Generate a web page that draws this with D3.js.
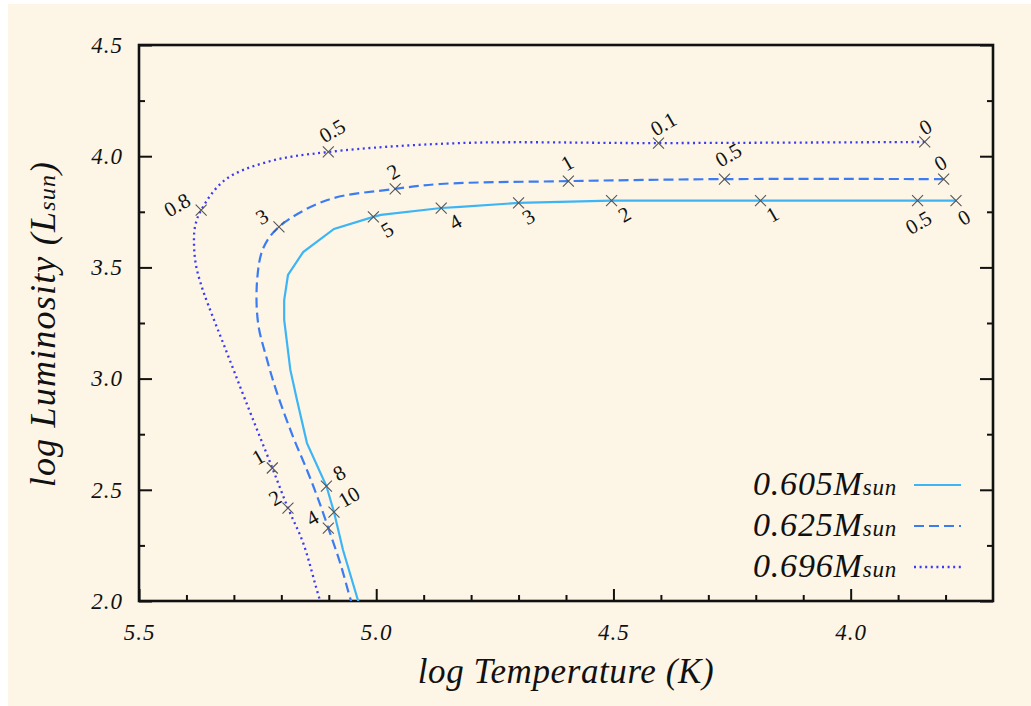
<!DOCTYPE html>
<html>
<head>
<meta charset="utf-8">
<script src="https://cdn.jsdelivr.net/npm/d3@7"></script>
<style>
  html, body { margin: 0; padding: 0; background: #ffffff; }
  svg { display: block; }
  .serif { font-family: "Liberation Serif", "DejaVu Serif", serif; }
</style>
</head>
<body>
<svg id="chart" width="1031" height="706"></svg>
<script>
// Post-AGB evolutionary tracks: log Teff vs log L for three remnant masses.
const seriesNames = ["0.605", "0.625", "0.696"];

// 0.605 Msun track
const tempA = [3.778, 3.859, 4.19, 4.504, 4.70, 4.823, 4.863, 4.99, 5.006, 5.089, 5.154, 5.186, 5.194, 5.194, 5.181, 5.167, 5.146, 5.105, 5.089, 5.070, 5.038, 5.02];
const lumA  = [3.80, 3.80, 3.80, 3.80, 3.79, 3.772, 3.767, 3.736, 3.727, 3.673, 3.569, 3.466, 3.353, 3.264, 3.039, 2.904, 2.710, 2.517, 2.400, 2.229, 2.0, 1.9];

// 0.625 Msun track
const tempB = [3.804, 4.266, 4.595, 4.865, 4.960, 5.103, 5.205, 5.238, 5.251, 5.249, 5.230, 5.209, 5.175, 5.146, 5.124, 5.101, 5.076, 5.053, 5.04];
const lumB  = [3.897, 3.897, 3.888, 3.875, 3.853, 3.803, 3.682, 3.587, 3.443, 3.250, 3.084, 2.935, 2.737, 2.589, 2.468, 2.328, 2.171, 2.0, 1.92];

// 0.696 Msun track
const tempC = [3.844, 4.405, 4.823, 5.101, 5.230, 5.319, 5.369, 5.382, 5.384, 5.380, 5.369, 5.354, 5.317, 5.276, 5.219, 5.186, 5.154, 5.118, 5.10];
const lumC  = [4.064, 4.059, 4.059, 4.019, 3.974, 3.893, 3.758, 3.682, 3.601, 3.511, 3.421, 3.331, 3.129, 2.904, 2.598, 2.418, 2.261, 2.0, 1.9];

// Age markers (10^3 yr) along each track
const markTempA = [3.778, 3.859, 4.19, 4.504, 4.70, 4.863, 5.006, 5.105, 5.089];
const markLumA  = [3.80, 3.80, 3.80, 3.80, 3.79, 3.767, 3.727, 2.517, 2.400];
const markTextA = ["0", "0.5", "1", "2", "3", "4", "5", "8", "10"];

const markTempB = [3.804, 4.266, 4.595, 4.960, 5.205, 5.101];
const markLumB  = [3.897, 3.897, 3.888, 3.853, 3.682, 2.328];
const markTextB = ["0", "0.5", "1", "2", "3", "4"];

const markTempC = [3.844, 4.405, 5.101, 5.369, 5.219, 5.186];
const markLumC  = [4.064, 4.059, 4.019, 3.758, 2.598, 2.418];
const markTextC = ["0", "0.1", "0.5", "0.8", "1", "2"];

// Axis ticks
const xTicks = [5.5, 5.0, 4.5, 4.0];
const yTicks = [2.0, 2.5, 3.0, 3.5, 4.0, 4.5];

// ---- layout ----
const W = 1031, H = 706;
const M = { left: 139, right: 993, top: 45, bottom: 601 };
const svg = d3.select("#chart");

svg.append("rect").attr("x", 8).attr("y", 4).attr("width", W - 8).attr("height", H - 4).attr("fill", "#fdf6e7");

const x = d3.scaleLinear().domain([5.5, 3.7]).range([M.left, M.right]);
const y = d3.scaleLinear().domain([2.0, 4.5]).range([M.bottom, M.top]);

svg.append("defs").append("clipPath").attr("id", "plotClip")
  .append("rect").attr("x", M.left).attr("y", M.top)
  .attr("width", M.right - M.left).attr("height", M.bottom - M.top);

// ---- axes (ticks point into the frame) ----
const xMinor = d3.range(55, 37, -1).map(v => v / 10);
const yMinor = d3.range(8, 19).map(v => v / 4);
const notMajor = (vals, majors) => vals.filter(v => !majors.some(t => Math.abs(t - v) < 1e-6));

const gx = svg.append("g").attr("transform", `translate(0,${M.bottom})`)
  .call(d3.axisBottom(x).tickValues(xTicks).tickFormat(d3.format(".1f")).tickSize(-12).tickPadding(39));
const gy = svg.append("g").attr("transform", `translate(${M.left},0)`)
  .call(d3.axisLeft(y).tickValues(yTicks).tickFormat(d3.format(".1f")).tickSize(-13).tickPadding(16));
const gr = svg.append("g").attr("transform", `translate(${M.right},0)`)
  .call(d3.axisRight(y).tickValues(yTicks).tickFormat("").tickSize(-13));

const gxm = svg.append("g").attr("transform", `translate(0,${M.bottom})`)
  .call(d3.axisBottom(x).tickValues(notMajor(xMinor, xTicks)).tickFormat("").tickSize(-6));
const gym = svg.append("g").attr("transform", `translate(${M.left},0)`)
  .call(d3.axisLeft(y).tickValues(notMajor(yMinor, yTicks)).tickFormat("").tickSize(-6));
const grm = svg.append("g").attr("transform", `translate(${M.right},0)`)
  .call(d3.axisRight(y).tickValues(notMajor(yMinor, yTicks)).tickFormat("").tickSize(-6));

[gx, gy, gr, gxm, gym, grm].forEach(g => {
  g.select(".domain").remove();
  g.selectAll(".tick line").attr("stroke", "#111").attr("stroke-width", 2);
  g.selectAll(".tick text")
    .style("font-family", "'Liberation Serif', serif").style("font-style", "italic")
    .style("font-size", "23px").style("letter-spacing", "1px").attr("fill", "#111");
});
gx.selectAll(".tick text").attr("dy", "0");

// frame
svg.append("rect").attr("x", M.left).attr("y", M.top)
  .attr("width", M.right - M.left).attr("height", M.bottom - M.top)
  .attr("fill", "none").attr("stroke", "#111").attr("stroke-width", 2.6);

// ---- tracks ----
const plot = svg.append("g").attr("clip-path", "url(#plotClip)");
const zipPts = (ts, ls) => ts.map((t, i) => [t, ls[i]]);
const lineLin = d3.line().x(d => x(d[0])).y(d => y(d[1]));
const lineSmooth = d3.line().x(d => x(d[0])).y(d => y(d[1])).curve(d3.curveCatmullRom.alpha(0.5));

const styles = [
  { color: "#3db5f5", width: 2.2, dash: null, line: lineLin },
  { color: "#3c7cf2", width: 2.2, dash: "10,5", line: lineSmooth },
  { color: "#3a3af5", width: 2.3, dash: "2,3.6", line: lineSmooth }
];
const tracks = [zipPts(tempA, lumA), zipPts(tempB, lumB), zipPts(tempC, lumC)];

tracks.forEach((pts, i) => {
  const s = styles[i];
  plot.append("path").attr("d", s.line(pts))
    .attr("fill", "none").attr("stroke", s.color).attr("stroke-width", s.width)
    .attr("stroke-dasharray", s.dash);
});

// ---- age markers and their labels ----
// label centre offsets (px) from each marker
const offsA = [[8, 17], [1, 22], [12, 14], [13, 14], [10, 14], [14, 14], [14, 13], [13, -13], [15, -15]];
const offsB = [[-3, -16], [4, -24], [-1, -18], [-2, -17], [-17, -10], [-16, -10]];
const offsC = [[1, -15], [5, -19], [4, -21], [-24, -5], [-14, -11], [-13, -10]];

const markerSets = [
  [markTempA, markLumA, markTextA, offsA],
  [markTempB, markLumB, markTextB, offsB],
  [markTempC, markLumC, markTextC, offsC]
];

const mg = svg.append("g");
markerSets.forEach(([ts, ls, txt, offs]) => {
  ts.forEach((t, i) => {
    const px = x(t), py = y(ls[i]);
    const r = 5.5;
    mg.append("path")
      .attr("d", `M${px - r},${py - r}L${px + r},${py + r}M${px - r},${py + r}L${px + r},${py - r}`)
      .attr("stroke", "#555").attr("stroke-width", 1.1).attr("fill", "none");
    const lx = px + offs[i][0], ly = py + offs[i][1];
    mg.append("text").attr("class", "serif")
      .attr("x", lx).attr("y", ly)
      .attr("text-anchor", "middle").attr("dominant-baseline", "central")
      .attr("transform", `rotate(-30,${lx},${ly})`)
      .attr("font-size", 21).attr("fill", "#111")
      .text(txt[i]);
  });
});

// ---- axis titles ----
svg.append("text").attr("class", "serif")
  .attr("x", 566).attr("y", 683).attr("text-anchor", "middle")
  .attr("font-size", 35).attr("font-style", "italic").attr("letter-spacing", 0.6).attr("fill", "#111")
  .text("log Temperature (K)");

const yt = svg.append("text").attr("class", "serif")
  .attr("transform", "translate(55,324) rotate(-90)").attr("text-anchor", "middle")
  .attr("font-size", 36).attr("font-style", "italic").attr("letter-spacing", 1.2).attr("fill", "#111");
yt.append("tspan").text("log Luminosity (L");
yt.append("tspan").attr("font-size", 24).text("sun");
yt.append("tspan").text(")");

// ---- legend ----
const legY = [485, 526, 567];
seriesNames.forEach((name, i) => {
  const s = styles[i];
  const t = svg.append("text").attr("class", "serif")
    .attr("x", 897).attr("y", legY[i] + 10).attr("text-anchor", "end")
    .attr("font-size", 34).attr("font-style", "italic").attr("letter-spacing", 0.8).attr("fill", "#111");
  t.append("tspan").text(name + "M");
  t.append("tspan").attr("font-size", 23).text("sun");
  svg.append("line").attr("x1", 914).attr("x2", 961).attr("y1", legY[i]).attr("y2", legY[i])
    .attr("stroke", s.color).attr("stroke-width", s.width)
    .attr("stroke-dasharray", s.dash);
});
</script>
</body>
</html>
